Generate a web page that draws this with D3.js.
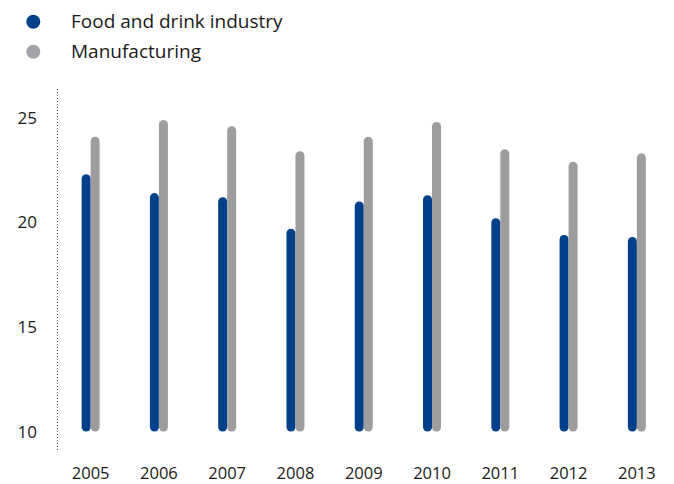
<!DOCTYPE html>
<html>
<head>
<meta charset="utf-8">
<script src="https://cdn.jsdelivr.net/npm/d3@7/dist/d3.min.js"></script>
<style>
  html, body { margin: 0; padding: 0; background: #ffffff; }
  svg text { font-family: "Open Sans", "DejaVu Sans", sans-serif; fill: #1a1a1a; }
</style>
</head>
<body>
<svg id="chart" width="674" height="484"></svg>
<script>
// Years on the x axis
const years = ["2005", "2006", "2007", "2008", "2009", "2010", "2011", "2012", "2013"];
// Share values for each series, one per year
const foodAndDrink = [22.3, 21.4, 21.2, 19.7, 21.0, 21.3, 20.2, 19.4, 19.3];
const manufacturing = [24.1, 24.9, 24.6, 23.4, 24.1, 24.8, 23.5, 22.9, 23.3];
// Y axis ticks
const yTicks = [10, 15, 20, 25];

const seriesNames = ["Food and drink industry", "Manufacturing"];
const seriesColors = ["#003f8a", "#9d9d9d"];
const legendColors = ["#003f8a", "#a3a2a8"];

const svg = d3.select("#chart");

const x = d3.scaleBand()
  .domain(years)
  .range([56.5, 671.0])
  .paddingInner(0)
  .paddingOuter(0);

const y = d3.scaleLinear()
  .domain([10, 25])
  .range([431.6, 117.8]);

const barW = 9;

// Dotted vertical axis line
svg.append("line")
  .attr("x1", 57.5).attr("x2", 57.5)
  .attr("y1", 89).attr("y2", 450)
  .attr("stroke", "#555")
  .attr("stroke-width", 1)
  .attr("stroke-dasharray", "1,2");

// Y axis labels
const yAxis = d3.axisLeft(y).tickValues(yTicks).tickSize(0).tickPadding(0);
const yg = svg.append("g")
  .attr("transform", "translate(37,0)")
  .call(yAxis);
yg.select(".domain").remove();
yg.selectAll("text")
  .attr("font-size", 17)
  .attr("font-family", "Open Sans, DejaVu Sans, sans-serif")
  .attr("fill", "#1a1a1a");

// X axis labels
const xAxis = d3.axisBottom(x).tickSize(0).tickPadding(0);
const xg = svg.append("g")
  .attr("transform", "translate(0,467)")
  .call(xAxis);
xg.select(".domain").remove();
xg.selectAll("text")
  .attr("font-size", 16.5)
  .attr("font-family", "Open Sans, DejaVu Sans, sans-serif")
  .attr("fill", "#1a1a1a");

// Bars: rounded columns rising from the baseline value 10
const series = [foodAndDrink, manufacturing];
series.forEach((vals, si) => {
  svg.append("g")
    .selectAll("rect")
    .data(years.map((yr, i) => ({ yr, v: vals[i] })))
    .join("rect")
    .attr("x", d => x(d.yr) + x.bandwidth() / 2 - barW + si * barW)
    .attr("y", d => y(d.v))
    .attr("width", barW)
    .attr("height", d => y(10) - y(d.v))
    .attr("rx", barW / 2)
    .attr("ry", barW / 2)
    .attr("fill", seriesColors[si]);
});

// Legend
const legend = svg.append("g");
seriesNames.forEach((name, i) => {
  const g = legend.append("g").attr("transform", `translate(0,${21.7 + i * 30})`);
  g.append("circle")
    .attr("cx", 33.3).attr("cy", 0).attr("r", 7)
    .attr("fill", legendColors[i]);
  g.append("text")
    .attr("x", 71).attr("y", 0)
    .attr("dy", "0.35em")
    .attr("font-size", 19)
    .text(name);
});
</script>
</body>
</html>
